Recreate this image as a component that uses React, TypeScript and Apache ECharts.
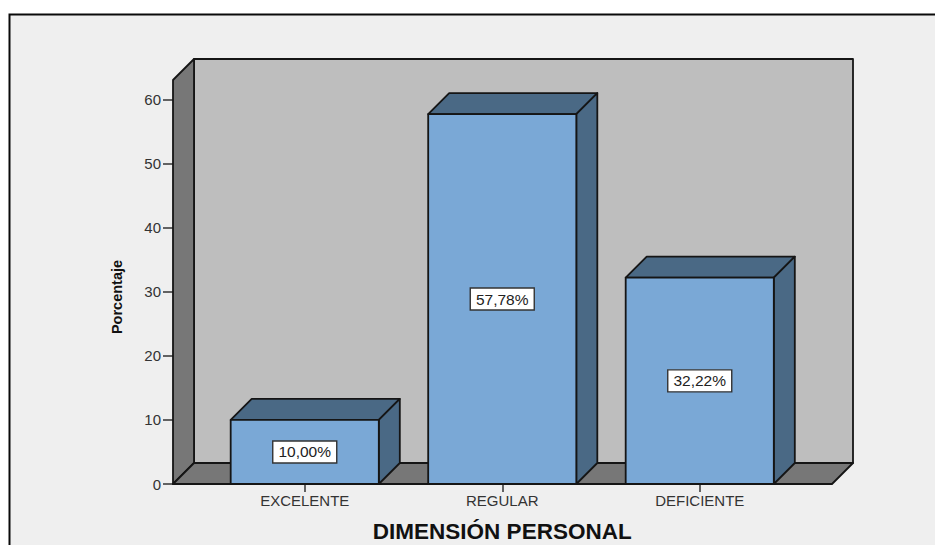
import React, { useEffect, useRef } from "react";
import * as echarts from "echarts";

const categories = ["EXCELENTE", "REGULAR", "DEFICIENTE"];
const percentages = [10.0, 57.78, 32.22];
const yTicks = [0, 10, 20, 30, 40, 50, 60];
const xTitle = "DIMENSIÓN PERSONAL";
const yTitle = "Porcentaje";
const yMax = 63.1;

const FONT = '"Liberation Sans", Arial, sans-serif';
const DEPTH = 21;
const WALL_INSET = 33;
const LINE = "#151515";

const fmt = (v: number) => v.toFixed(2).replace(".", ",") + "%";

export default function App() {
  const ref = useRef<HTMLDivElement>(null);
  useEffect(() => {
    const chart = echarts.init(ref.current!, undefined, { renderer: "svg", width: 935, height: 545 });
    const wallStyle = (fill: string) => ({ fill, stroke: LINE, lineWidth: 1.8, lineJoin: "round" as const });
    chart.setOption({
      animation: false,
      backgroundColor: "#ffffff",
      graphic: [
        { type: "rect", z: -10, shape: { x: 9.5, y: 14.5, width: 940, height: 540 }, style: { fill: "#efefef", stroke: "#0a0a0a", lineWidth: 2 } },
      ],
      grid: { left: 206, top: 80, width: 592.5, height: 404, containLabel: false, outerBoundsMode: "none" },
      xAxis: {
        type: "category",
        data: categories,
        axisLine: { show: false },
        axisTick: { show: true, alignWithLabel: true, length: 8, lineStyle: { color: "#333", width: 1.5 } },
        axisLabel: { fontFamily: FONT, fontSize: 15, color: "#333", margin: 9 },
        name: xTitle,
        nameLocation: "middle",
        nameGap: 36,
        nameTextStyle: { fontFamily: FONT, fontSize: 22.5, fontWeight: "bold", color: "#111" },
      },
      yAxis: {
        type: "value",
        min: 0,
        max: yMax,
        offset: WALL_INSET,
        splitLine: { show: false },
        axisLine: { show: false },
        axisTick: { show: true, length: 10, customValues: yTicks, lineStyle: { color: "#333", width: 1.5 } },
        axisLabel: { fontFamily: FONT, fontSize: 15, color: "#333", margin: 12, customValues: yTicks },
        name: yTitle,
        nameLocation: "middle",
        nameGap: 49,
        nameRotate: 90,
        nameTextStyle: { fontFamily: FONT, fontSize: 14.5, fontWeight: "bold", color: "#111", padding: [0, 30, 0, 0] },
      },
      series: [
        {
          type: "custom",
          silent: true,
          z: 1,
          clip: false,
          data: [[0, 0]],
          encode: { x: 0, y: 1 },
          renderItem: (params: any, api: any) => {
            const cs = params.coordSys;
            const x0 = cs.x - WALL_INSET;
            const x1 = cs.x + cs.width + WALL_INSET + 0.5;
            const yBottom = cs.y + cs.height;
            const yTop = cs.y;
            return {
              type: "group",
              children: [
                { type: "rect", shape: { x: x0 + DEPTH, y: yTop - DEPTH, width: x1 - x0, height: cs.height }, style: wallStyle("#bebebe") },
                { type: "polygon", shape: { points: [[x0, yTop], [x0 + DEPTH, yTop - DEPTH], [x0 + DEPTH, yBottom - DEPTH], [x0, yBottom]] }, style: wallStyle("#777777") },
                { type: "polygon", shape: { points: [[x0, yBottom], [x0 + DEPTH, yBottom - DEPTH], [x1 + DEPTH, yBottom - DEPTH], [x1, yBottom]] }, style: wallStyle("#777777") },
              ],
            };
          },
        },
        {
          type: "custom",
          silent: true,
          z: 3,
          clip: false,
          data: percentages.map((v, i) => [i, v]),
          encode: { x: 0, y: 1 },
          renderItem: (_params: any, api: any) => {
            const value = api.value(1) as number;
            const top = api.coord([api.value(0), value]);
            const base = api.coord([api.value(0), 0]);
            const w = (api.size([1, 0]) as number[])[0] * 0.75;
            const l = top[0] - w / 2;
            const r = top[0] + w / 2;
            const style = (fill: string) => ({ fill, stroke: LINE, lineWidth: 1.8, lineJoin: "round" as const });
            return {
              type: "group",
              children: [
                { type: "polygon", shape: { points: [[l, top[1]], [l + DEPTH, top[1] - DEPTH], [r + DEPTH, top[1] - DEPTH], [r, top[1]]] }, style: style("#4a6985") },
                { type: "polygon", shape: { points: [[r, top[1]], [r + DEPTH, top[1] - DEPTH], [r + DEPTH, base[1] - DEPTH], [r, base[1]]] }, style: style("#4a6985") },
                { type: "rect", shape: { x: l, y: top[1], width: w, height: base[1] - top[1] }, style: style("#7aa8d6") },
                { type: "rect", shape: { x: top[0] - 32, y: (top[1] + base[1]) / 2 - 11, width: 64, height: 22 }, style: { fill: "#ffffff", stroke: "#333333", lineWidth: 1.4 } },
                {
                  type: "text",
                  style: {
                    x: top[0],
                    y: (top[1] + base[1]) / 2,
                    text: fmt(value),
                    align: "center",
                    verticalAlign: "middle",
                    fontFamily: FONT,
                    fontSize: 15.5,
                    fill: "#222",
                  },
                },
              ],
            };
          },
        },
      ],
    });
    return () => chart.dispose();
  }, []);
  return <div ref={ref} style={{ position: "fixed", left: 0, top: 0, width: 935, height: 545 }} />;
}
